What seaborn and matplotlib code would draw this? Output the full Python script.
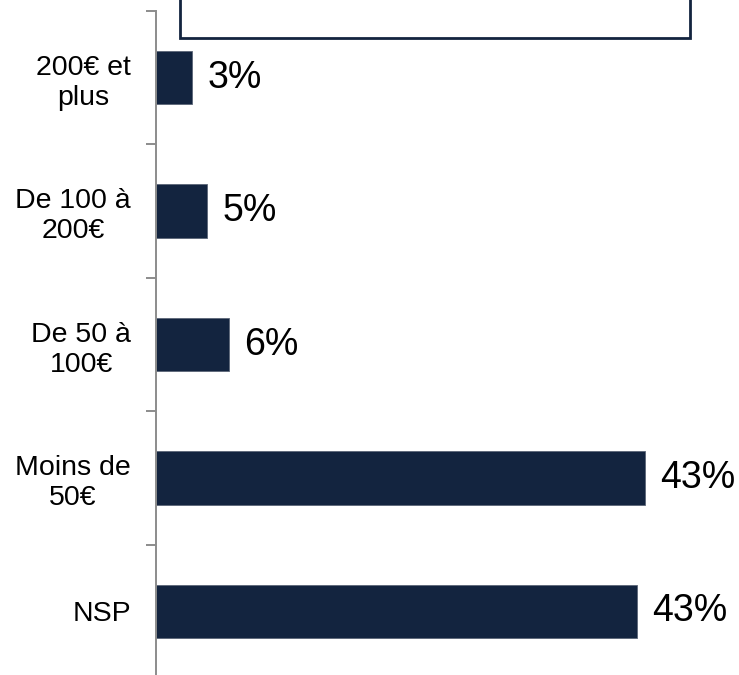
import matplotlib
matplotlib.use("Agg")
import matplotlib.pyplot as plt
from matplotlib.patches import Rectangle
import seaborn as sns
import pandas as pd

# Chart data
categories = ["200€ et\nplus", "De 100 à\n200€", "De 50 à\n100€", "Moins de\n50€", "NSP"]
values = [3.2, 4.6, 6.5, 43.7, 43.0]
value_labels = ["3%", "5%", "6%", "43%", "43%"]

BAR_COLOR = "#13243f"
AXIS_COLOR = "#8c8c8c"

sns.set_style("white")
plt.rcParams['font.family'] = ['Liberation Sans', 'DejaVu Sans']

df = pd.DataFrame({"cat": categories, "val": values})

fig = plt.figure(figsize=(7.39, 6.75), dpi=100)
ax = fig.add_axes([0.2111, -0.0044, 0.789, 0.988])

sns.barplot(data=df, x="val", y="cat", orient="h", color=BAR_COLOR,
            width=0.4, saturation=1, edgecolor="#5b6577", linewidth=0.6, ax=ax)

ax.bar_label(ax.containers[0], labels=value_labels, padding=11, fontsize=27,
             color="black")

ax.set_xlim(0, 52.1)
ax.set_ylim(len(categories) - 0.5, -0.5)
ax.set_xlabel("")
ax.set_ylabel("")
ax.set_xticks([])

# category labels without ticks, boundary ticks as minor ticks
ax.tick_params(axis="y", which="major", left=True, length=0, pad=18,
               labelsize=20.5, labelcolor="black")
ax.set_yticks([i - 0.5 for i in range(len(categories))], minor=True)
ax.tick_params(axis="y", which="minor", left=True, length=7, width=1.4,
               color=AXIS_COLOR, direction="out")
for lab in ax.get_yticklabels():
    lab.set_multialignment("center")
    lab.set_linespacing(1.2)

for side in ["top", "right", "bottom"]:
    ax.spines[side].set_visible(False)
ax.spines["left"].set_color(AXIS_COLOR)
ax.spines["left"].set_linewidth(1.4)

# clipped title box at the top
fig.patches.append(Rectangle((180 / 739, 1 - 38 / 675), 510 / 739, 0.1,
                             transform=fig.transFigure, facecolor="white",
                             edgecolor=BAR_COLOR, linewidth=2, zorder=5))

fig.savefig("out.png", dpi=100)
